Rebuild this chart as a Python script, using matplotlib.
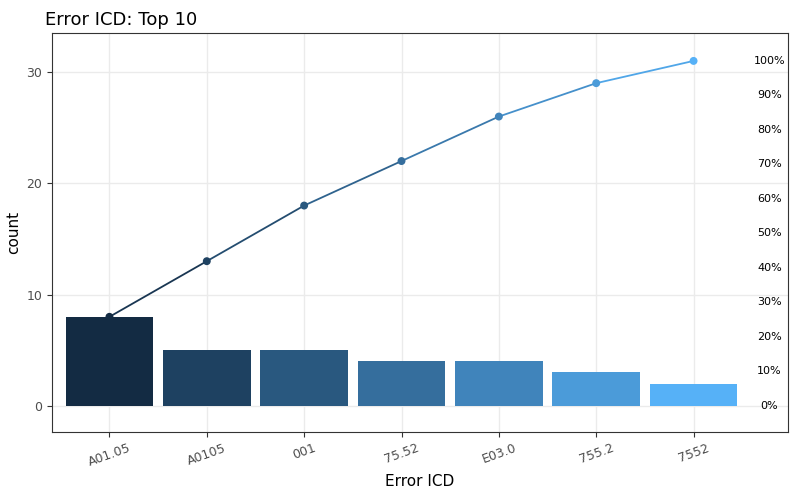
import numpy as np
import matplotlib
matplotlib.use("Agg")
import matplotlib.pyplot as plt
from matplotlib.colors import LinearSegmentedColormap

codes = ["A01.05", "A0105", "001", "75.52", "E03.0", "755.2", "7552"]
counts = [8, 5, 5, 4, 4, 3, 2]
pct_labels = ["0%", "10%", "20%", "30%", "40%", "50%", "60%", "70%", "80%", "90%", "100%"]

cum = np.cumsum(counts)
total = cum[-1]
x = np.arange(len(codes))
cmap = LinearSegmentedColormap.from_list("gg", ["#132B43", "#56B1F7"])
cols = [cmap(i / (len(codes) - 1)) for i in range(len(codes))]

fig = plt.figure(figsize=(8, 4.94), dpi=100)
ax = fig.add_axes([0.065, 0.126, 0.92, 0.807])
ax.set_axisbelow(True)
ax.grid(True, color="#ebebeb", lw=1.0)
ax.bar(x, counts, width=0.9, color=cols, zorder=2)
for i in range(len(x) - 1):
    ax.plot(x[i:i + 2], cum[i:i + 2], color=cmap((i + 0.5) / (len(x) - 1)), lw=1.3, zorder=3)
ax.scatter(x, cum, c=cols, s=22, zorder=4)

for i, lab in enumerate(pct_labels):
    ax.text(6.78, total * i / 10, lab, fontsize=8, ha="center", va="center", color="black")

ax.set_xlim(-0.59, 6.97)
ax.set_ylim(-2.33, 33.5)
ax.set_yticks([0, 10, 20, 30])
ax.set_xticks(x)
ax.set_xticklabels(codes, rotation=20, color="#4d4d4d", fontsize=9)
ax.tick_params(axis="y", labelcolor="#4d4d4d", labelsize=9, color="#333333")
ax.tick_params(axis="x", color="#333333")
for s in ax.spines.values():
    s.set_color("#333333")
ax.set_xlabel("Error ICD", fontsize=11)
ax.set_ylabel("count", fontsize=11)
ax.set_title("Error ICD: Top 10", loc="left", fontsize=13, x=-0.01)
fig.savefig("out.png", dpi=100)
